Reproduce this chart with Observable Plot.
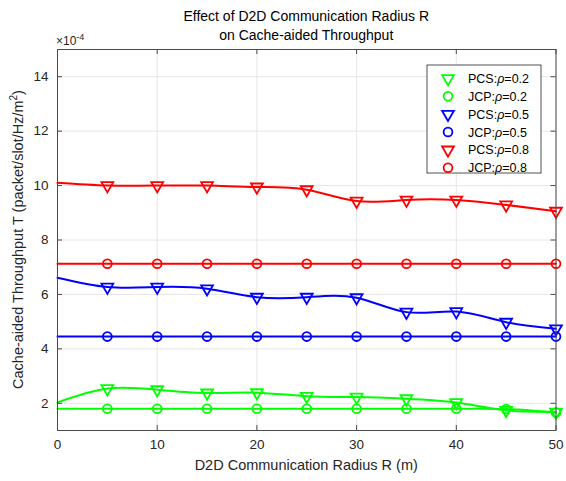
<!DOCTYPE html>
<html><head><meta charset="utf-8">
<script src="https://cdn.jsdelivr.net/npm/d3@7"></script>
<script src="https://cdn.jsdelivr.net/npm/@observablehq/plot@0.6"></script>
<style>body{margin:0;background:#fff;} #chart{position:relative;width:566px;height:481px;}</style>
</head><body><div id="chart"></div>
<script>
// D2D communication radius R (m)
const radius = [0, 5, 10, 15, 20, 25, 30, 35, 40, 45, 50];
// Throughput values (x 1e-4)
const pcs02 = [2.03, 2.54, 2.50, 2.38, 2.39, 2.26, 2.23, 2.17, 2.03, 1.74, 1.68];
const jcp02 = [1.80, 1.80, 1.80, 1.80, 1.80, 1.80, 1.80, 1.80, 1.80, 1.79, 1.66];
const pcs05 = [6.61, 6.27, 6.27, 6.21, 5.90, 5.90, 5.88, 5.35, 5.37, 4.98, 4.74];
const jcp05 = [4.45, 4.45, 4.45, 4.45, 4.45, 4.45, 4.45, 4.45, 4.45, 4.45, 4.45];
const pcs08 = [10.10, 10.00, 10.00, 10.00, 9.95, 9.85, 9.43, 9.47, 9.47, 9.29, 9.06];
const jcp08 = [7.13, 7.13, 7.13, 7.13, 7.13, 7.13, 7.13, 7.13, 7.13, 7.13, 7.13];

const xTicks = [0, 10, 20, 30, 40, 50];
const yTicks = [2, 4, 6, 8, 10, 12, 14];

const seriesNames = ["PCS", "JCP", "PCS", "JCP", "PCS", "JCP"];
const seriesRho = ["0.2", "0.2", "0.5", "0.5", "0.8", "0.8"];
const seriesColors = ["#00ff00", "#00ff00", "#0000ff", "#0000ff", "#ff0000", "#ff0000"];
const seriesValues = [pcs02, jcp02, pcs05, jcp05, pcs08, jcp08];

const rows = seriesValues.flatMap((vals, k) => vals.map((v, i) => ({
  key: k, x: radius[i], y: v, color: seriesColors[k], method: seriesNames[k]
})));
const markerRows = rows.filter(d => d.x > 0);

const W = 566, H = 481, mL = 57, mR = 10.5, mT = 49, mB = 51;
const innerW = W - mL - mR, innerH = H - mT - mB;
const axisColor = "#4a4a4a";
const font = "'Liberation Sans', Arial, Helvetica, sans-serif";

const svg = Plot.plot({
  width: W, height: H,
  marginLeft: mL, marginRight: mR, marginTop: mT, marginBottom: mB,
  style: {fontFamily: font, fontSize: "13px", background: "#fff", color: "#262626"},
  x: {domain: [0, 50]},
  y: {domain: [1, 15]},
  color: {type: "identity"},
  marks: [
    Plot.gridX(xTicks, {stroke: "#e6e6e6", strokeOpacity: 1}),
    Plot.gridY(yTicks, {stroke: "#e6e6e6", strokeOpacity: 1}),
    Plot.line(rows, {x: "x", y: "y", z: "key", stroke: "color", curve: "natural", strokeWidth: 2}),
    Plot.dot(markerRows.filter(d => d.method === "PCS"), {x: "x", y: "y", stroke: "color", symbol: "triangle", rotate: 180, r: 4.4, strokeWidth: 1.8, fill: "none"}),
    Plot.dot(markerRows.filter(d => d.method === "JCP"), {x: "x", y: "y", stroke: "color", symbol: "circle", r: 4.4, strokeWidth: 1.8, fill: "none"}),
    Plot.tickX(xTicks, {x: d => d, insetTop: innerH - 5, stroke: axisColor}),
    Plot.tickX(xTicks, {x: d => d, insetBottom: innerH - 5, stroke: axisColor}),
    Plot.tickY(yTicks, {y: d => d, insetRight: innerW - 5, stroke: axisColor}),
    Plot.tickY(yTicks, {y: d => d, insetLeft: innerW - 5, stroke: axisColor}),
    Plot.axisX({ticks: xTicks, tickSize: 0, tickPadding: 9, label: null, fontSize: 13.5}),
    Plot.axisY({ticks: yTicks, tickSize: 0, tickPadding: 9, label: null, fontSize: 13.5}),
    Plot.frame({stroke: axisColor})
  ]
});
document.getElementById("chart").appendChild(svg);

const s = d3.select(svg);
const cx = mL + innerW / 2;
// Title
s.append("text").attr("x", cx).attr("y", 21).attr("text-anchor", "middle")
  .attr("font-size", 14).attr("fill", "#000").text("Effect of D2D Communication Radius R");
s.append("text").attr("x", cx).attr("y", 40).attr("text-anchor", "middle")
  .attr("font-size", 14).attr("fill", "#000").text("on Cache-aided Throughput");
// exponent
const ex = s.append("text").attr("x", mL - 1).attr("y", 45).attr("text-anchor", "start")
  .attr("font-size", 12).attr("fill", "#262626");
ex.append("tspan").text("\u00d710");
ex.append("tspan").attr("dy", -5).attr("font-size", 9).text("-4");
// x label
s.append("text").attr("x", cx).attr("y", 470).attr("text-anchor", "middle")
  .attr("font-size", 14.5).attr("fill", "#262626").text("D2D Communication Radius R (m)");
// y label
const yl = s.append("text").attr("transform", `translate(23,${mT + innerH / 2}) rotate(-90)`)
  .attr("text-anchor", "middle").attr("font-size", 14.5).attr("fill", "#262626");
yl.append("tspan").text("Cache-aided Throughput T (packet/slot/Hz/m");
yl.append("tspan").attr("dy", -6).attr("font-size", 10).text("2");
yl.append("tspan").attr("dy", 6).text(")");

// Legend
const lg = s.append("g");
lg.append("rect").attr("x", 427).attr("y", 65).attr("width", 114).attr("height", 108)
  .attr("fill", "#fff").attr("stroke", "#262626").attr("stroke-width", 0.8);
seriesNames.forEach((nm, i) => {
  const y = 78.5 + i * 17.85;
  if (nm === "PCS") {
    lg.append("path").attr("d", d3.symbol(d3.symbolTriangle, Math.PI * 4.4 * 4.4)())
      .attr("transform", `translate(448,${y}) rotate(180)`)
      .attr("fill", "none").attr("stroke", seriesColors[i]).attr("stroke-width", 1.8);
  } else {
    lg.append("circle").attr("cx", 448).attr("cy", y).attr("r", 4.4)
      .attr("fill", "none").attr("stroke", seriesColors[i]).attr("stroke-width", 1.8);
  }
  const t = lg.append("text").attr("x", 468).attr("y", y).attr("dy", "0.36em")
    .attr("text-anchor", "start").attr("font-size", 12.5).attr("fill", "#000");
  t.append("tspan").text(nm + ":");
  t.append("tspan").attr("font-style", "italic").text("\u03c1");
  t.append("tspan").text("=" + seriesRho[i]);
});
</script>
</body></html>
